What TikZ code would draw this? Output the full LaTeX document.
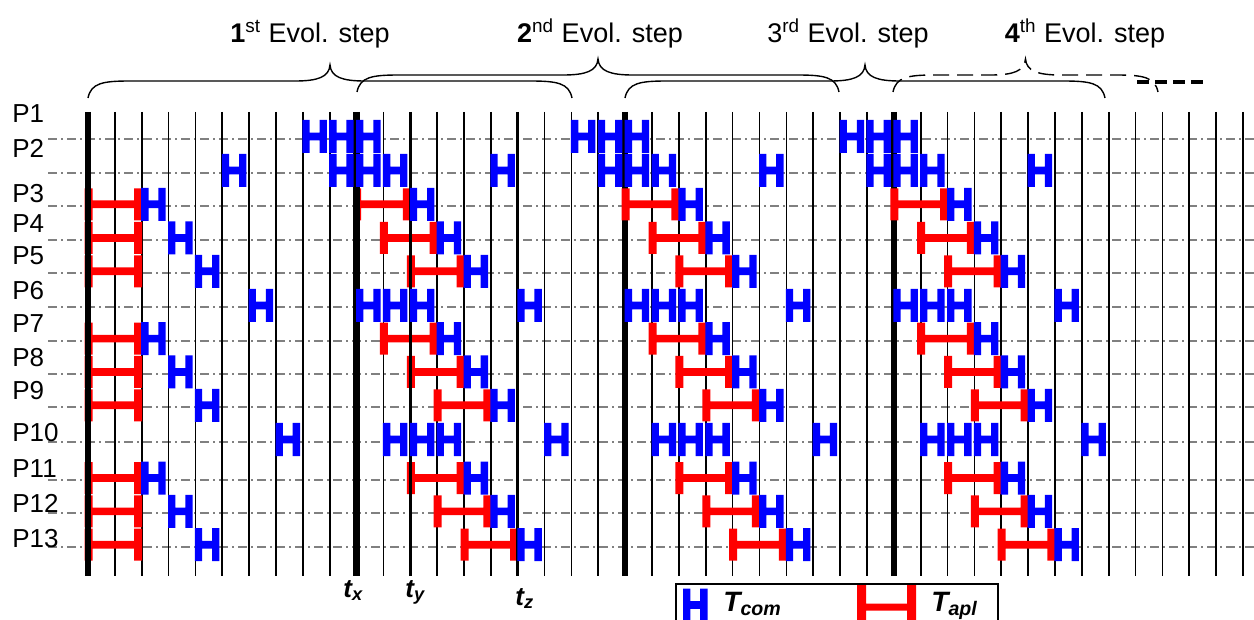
\documentclass[tikz,border=0pt]{standalone}
\usepackage{fontspec}
\setmainfont{Liberation Sans}
\definecolor{tcomblue}{RGB}{0,0,255}
\definecolor{taplred}{RGB}{255,0,0}
\tikzset{
  hcom/.pic={\fill[tcomblue] (0,-16.5) rectangle (7.3,16.5) (17.2,-16.5) rectangle (24.5,16.5) (0,-3.8) rectangle (24.5,3.8);},
  tapl/.pic={\fill[taplred] (0,-16) rectangle (8,16) ({#1-8},-16) rectangle (#1,16) (0,-3.8) rectangle (#1,3.8);},
  gridline/.style={line width=0.85pt,black},
  midline/.style={line width=1.7pt,black},
  boldline/.style={line width=3.2pt,black},
  rowline/.style={line width=1.1pt,black!50,dash pattern=on 4.5pt off 2pt on 1pt off 2pt},
  bracepen/.style={line width=0.7pt,black},
  lab/.style={inner sep=0pt,font=\fontsize{13}{15}\selectfont},
  ttl/.style={inner sep=0pt,font=\fontsize{13.5}{15}\selectfont},
  tlab/.style={inner sep=0pt,font=\fontsize{13}{15}\selectfont\bfseries\itshape},
}
\newcommand\Hc[2]{\pic at ({88+26.86*(#1)-0.5},#2) {hcom};}
\newcommand\Ta[2]{\pic at ({88+26.86*(#1)-3.5},#2) {tapl=57.7};}
\newcommand\gridV[2]{\draw[#2] ({88+26.86*(#1)},112) -- ({88+26.86*(#1)},576);}
\newcommand\mybrace[4]{%
  \pgfmathsetmacro\bm{(#1+#2)/2}%
  \pgfmathsetmacro\bh{#3-17}%
  \pgfmathsetmacro\bc{#3-33}%
  \draw[bracepen,#4] (#1,#3) .. controls ({#1+3},{\bh+2}) and ({#1+15},\bh) .. ({#1+42},\bh)
    -- ({\bm-35},\bh) .. controls ({\bm-12},\bh) and ({\bm-1},{\bh-4}) .. (\bm,\bc)
    .. controls ({\bm+1},{\bh-4}) and ({\bm+12},\bh) .. ({\bm+35},\bh)
    -- ({#2-42},\bh) .. controls ({#2-15},\bh) and ({#2-3},{\bh+2}) .. (#2,#3);}
\begin{document}
\begin{tikzpicture}[x=0.5pt,y=-0.5pt]
\fill[white] (0,0) rectangle (1254,620);
\useasboundingbox (0,0) rectangle (1254,620);
% row lines
\foreach \ly in {139.3,172.7,206.3,240,273.3,307.3,340.7,374,407.3,441.7,480,513.3,546.7}
  \draw[rowline] (48,\ly) -- (1254,\ly);
% thin grid and bold lines under the red bars
\foreach \i in {1,...,9,11,13,14,15,17,18,19,21,22,...,29,31,32,...,43} { \gridV{\i}{gridline} }
\gridV{20}{boldline}
\gridV{30}{boldline}
% T_apl bars
\foreach \yc/\a/\h in {204.3/0/2, 238/1/3, 271.3/2/4, 338.7/1/2, 372/2/3, 405.3/3/4, 478/2/2, 511.3/3/3, 544.7/4/4} {
  \Ta{0}{\yc}
  \foreach \k in {10,20,30} { \Ta{\k+\a}{\yc} }
}
% marked time lines
\gridV{12}{midline}
\gridV{16}{midline}
\gridV{0}{boldline}
\gridV{10}{boldline}
% T_com after the bars
\foreach \yc/\a/\h in {204.3/0/2, 238/1/3, 271.3/2/4, 338.7/1/2, 372/2/3, 405.3/3/4, 478/2/2, 511.3/3/3, 544.7/4/4} {
  \Hc{\h}{\yc}
  \foreach \k in {10,20,30} { \Hc{\k+\a+2}{\yc} }
}
% communication-only rows
\foreach \c in {8,9,10,18,19,20,28,29,30} { \Hc{\c}{136.5} }
\foreach \c in {5,15,25,35,9,10,11,19,20,21,29,30,31} { \Hc{\c}{170.5} }
\foreach \c in {6,16,26,36,10,11,12,20,21,22,30,31,32} { \Hc{\c}{305.5} }
\foreach \c in {7,17,27,37,11,12,13,21,22,23,31,32,33} { \Hc{\c}{439.5} }
% process labels
\foreach \n/\b in {1/123,2/158,3/203,4/233,5/265,6/300,7/333,8/367,9/400,10/442,11/478,12/512,13/547}
  \node[lab,anchor=base west] (p\n) at (12,\b) {P\n};
% step titles
\node[ttl,anchor=base] (s1) at (310,43) {\textbf{1}\textsuperscript{st} Evol. step};
\node[ttl,anchor=base] (s2) at (600,43) {\textbf{2}\textsuperscript{nd} Evol. step};
\node[ttl,anchor=base] (s3) at (848,43) {3\textsuperscript{rd} Evol. step};
\node[ttl,anchor=base] (s4) at (1085,43) {\textbf{4}\textsuperscript{th} Evol. step};
% braces
\mybrace{88}{572}{98}{}
\mybrace{357}{839}{92}{}
\mybrace{625}{1105}{98}{}
\mybrace{893}{1158}{92}{dash pattern=on 8pt off 4pt}
\coordinate (d1) at (1137,82);
\coordinate (d2) at (1204,82);
\draw[line width=1.6pt,dash pattern=on 6pt off 3pt] (d1) -- (d2);
% time labels
\node[tlab,anchor=base west] (tx) at (343,597) {t\textsubscript{x}};
\node[tlab,anchor=base west] (ty) at (405,597) {t\textsubscript{y}};
\node[tlab,anchor=base west] (tz) at (515,605) {t\textsubscript{z}};
% legend
\draw[line width=0.75pt] (676,584) rectangle (998,660);
\pic at (683,605) {hcom};
\fill[taplred] (857,585) rectangle (866,629) (907,585) rectangle (916,629) (857,603.5) rectangle (916,610.5);
\node[inner sep=0pt,anchor=base west,font=\fontsize{14}{16}\selectfont\bfseries\itshape] (lcom) at (723,611) {T\textsubscript{com}};
\node[inner sep=0pt,anchor=base west,font=\fontsize{14}{16}\selectfont\bfseries\itshape] (lapl) at (931,611) {T\textsubscript{apl}};
\end{tikzpicture}
\end{document}
